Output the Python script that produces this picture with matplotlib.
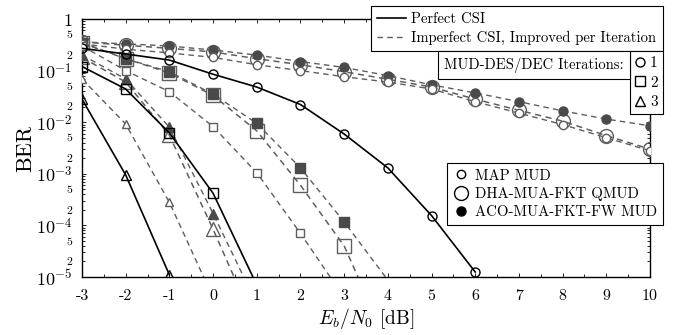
import numpy as np
import matplotlib
matplotlib.use('Agg')
import matplotlib.pyplot as plt
from matplotlib.lines import Line2D

plt.rcParams['font.family'] = 'serif'
plt.rcParams['font.serif'] = ['cmr10', 'DejaVu Serif']
plt.rcParams['mathtext.fontset'] = 'cm'
plt.rcParams['axes.formatter.use_mathtext'] = True

# Eb/N0 in dB
snr = [-3, -2, -1, 0, 1, 2, 3, 4, 5, 6, 7, 8, 9, 10]

# perfect CSI (MAP MUD)
perf_it1 = [0.27, 0.21, 0.16, 0.085, 0.048, 0.022, 0.0059, 1.3e-3, 1.55e-4, 1.25e-5]
perf_it2 = [0.12, 0.044, 0.0062, 4.2e-4, 7e-6]
perf_it3 = [0.028, 9.5e-4, 1.1e-5]

# imperfect CSI, iteration 1
map_it1 = [0.33, 0.26, 0.22, 0.18, 0.13, 0.10, 0.076, 0.06, 0.044, 0.025, 0.015, 0.009, 0.005, 0.0028]
dha_it1 = [0.36, 0.31, 0.27, 0.23, 0.17, 0.13, 0.095, 0.068, 0.048, 0.028, 0.017, 0.0105, 0.0055, 0.003]
aco_it1 = [0.36, 0.33, 0.30, 0.25, 0.20, 0.15, 0.115, 0.08, 0.053, 0.037, 0.025, 0.0166, 0.0115, 0.0085]

# imperfect CSI, iteration 2
map_it2 = [0.30, 0.10, 0.039, 0.0082, 1.05e-3, 7e-5, 4e-6]
dha_it2 = [0.34, 0.17, 0.09, 0.033, 0.0068, 6e-4, 4e-5, 5e-7]
aco_it2 = [0.35, 0.17, 0.095, 0.035, 0.0095, 1.3e-3, 1.17e-4, 8.7e-6]

# imperfect CSI, iteration 3
map_it3 = [0.069, 0.0092, 2.8e-4, 4e-6]
dha_it3 = [0.18, 0.06, 0.0056, 8.4e-5, 1e-6]
aco_it3 = [0.20, 0.069, 0.008, 1.7e-4, 3e-6]

GRAU = '#5e5e5e'
GRAU_DUNKEL = '#4a4a4a'
YMIN = 1e-5


def kurve(ax, werte, ls, farbe, marker, ms, mfc, mec, lw, z):
    x = np.array(snr[:len(werte)], dtype=float)
    y = np.array(werte, dtype=float)
    ax.plot(x, y, ls=ls, color=farbe, lw=lw, zorder=z,
            dashes=(4, 3) if ls == '--' else (None, None))
    # Marker nur innerhalb des Plotbereichs
    ym = np.where(y >= YMIN * 0.999, y, np.nan)
    ax.plot(x, ym, ls='none', marker=marker, ms=ms, mfc=mfc, mec=mec,
            mew=1.0, zorder=z + 1)


fig = plt.figure(figsize=(6.8, 3.35), dpi=100)
ax = fig.add_axes([82 / 680, 1 - 277 / 335, 568 / 680, 258 / 335])

# gestrichelt: imperfekte CSI
for werte, m in [(dha_it1, 'o'), (dha_it2, 's'), (dha_it3, '^')]:
    kurve(ax, werte, '--', GRAU, m, 10, 'none', GRAU, 1.1, 2)
for werte, m in [(aco_it1, 'o'), (aco_it2, 's'), (aco_it3, '^')]:
    kurve(ax, werte, '--', GRAU, m, 6.5, GRAU_DUNKEL, GRAU_DUNKEL, 1.0, 2)
for werte, m in [(map_it1, 'o'), (map_it2, 's'), (map_it3, '^')]:
    kurve(ax, werte, '--', GRAU, m, 6, 'white', GRAU, 1.0, 2)

# durchgezogen: perfekte CSI
for werte, m in [(perf_it1, 'o'), (perf_it2, 's'), (perf_it3, '^')]:
    kurve(ax, werte, '-', 'black', m, 6.5, 'none', 'black', 1.2, 4)

ax.set_yscale('log')
ax.set_xlim(-3, 10)
ax.set_ylim(1e-5, 1)

ax.set_xticks(snr)
ax.set_xticklabels([str(v) for v in snr], fontsize=11.5)
ax.set_xticks(np.arange(-3, 10.01, 0.5), minor=True)

major = [1e-5, 1e-4, 1e-3, 1e-2, 1e-1, 1]
ax.set_yticks(major)
ax.set_yticklabels(['$10^{-5}$', '$10^{-4}$', '$10^{-3}$', '$10^{-2}$', '$10^{-1}$', '$1$'],
                   fontsize=13)
minor = []
minor_lbl = []
for e in range(-5, 0):
    for k in range(2, 10):
        minor.append(k * 10.0 ** e)
        minor_lbl.append(str(k) if k in (2, 5) else '')
ax.set_yticks(minor, minor=True)
ax.set_yticklabels(minor_lbl, minor=True, fontsize=8.5)

ax.tick_params(which='both', direction='in', top=True, right=True, width=0.6)
ax.tick_params(which='major', length=3)
ax.tick_params(axis='x', which='major', pad=9)
ax.tick_params(axis='y', which='major', pad=7)
ax.tick_params(which='minor', length=2)
ax.tick_params(axis='y', which='minor', pad=7)
for s in ax.spines.values():
    s.set_linewidth(1.0)

ax.set_ylabel('BER', fontsize=16, labelpad=0)
ax.set_xlabel('$E_b/N_0$ [dB]', fontsize=14, labelpad=2)

leg_kw = dict(frameon=True, fancybox=False, framealpha=1, edgecolor='black',
              borderaxespad=0)

# Legende CSI
h_csi = [Line2D([], [], color='black', lw=1.2),
         Line2D([], [], color=GRAU, lw=1.0, ls='--', dashes=(4, 3))]
leg1 = fig.legend(h_csi, ['Perfect CSI', 'Imperfect CSI, Improved per Iteration'],
                  loc='upper right', bbox_to_anchor=(663 / 680, 1 - 6 / 335),
                  fontsize=10.5, handlelength=2.0, handletextpad=0.35,
                  labelspacing=0.3, borderpad=0.45, **leg_kw)
leg1.get_frame().set_linewidth(0.8)

# Iterationen
fig.text(534 / 680, 1 - 65 / 335, 'MUD-DES/DEC Iterations:', fontsize=10.5,
         ha='center', va='center', zorder=6,
         bbox=dict(boxstyle='square,pad=0.4', fc='white', ec='black', lw=0.8))
h_it = [Line2D([], [], ls='none', marker=m, ms=6.5, mfc='none', mec='black')
        for m in ['o', 's', '^']]
leg2 = fig.legend(h_it, ['1', '2', '3'], loc='upper right',
                  bbox_to_anchor=(663 / 680, 1 - 51 / 335), fontsize=11,
                  handlelength=0.6, handletextpad=0.35, labelspacing=0.38,
                  borderpad=0.35, **leg_kw)
leg2.get_frame().set_linewidth(0.8)

# Detektoren
h_det = [Line2D([], [], ls='none', marker='o', ms=6, mfc='none', mec='black'),
         Line2D([], [], ls='none', marker='o', ms=10, mfc='none', mec='black'),
         Line2D([], [], ls='none', marker='o', ms=6.5, mfc='black', mec='black')]
leg3 = fig.legend(h_det, ['MAP MUD', 'DHA-MUA-FKT QMUD', 'ACO-MUA-FKT-FW MUD'],
                  loc='upper right', bbox_to_anchor=(663 / 680, 1 - 163 / 335),
                  fontsize=10.7, handlelength=1.0, handletextpad=0.45,
                  labelspacing=0.28, borderpad=0.4, **leg_kw)
leg3.get_frame().set_linewidth(0.8)

fig.savefig('out.png', dpi=100)
